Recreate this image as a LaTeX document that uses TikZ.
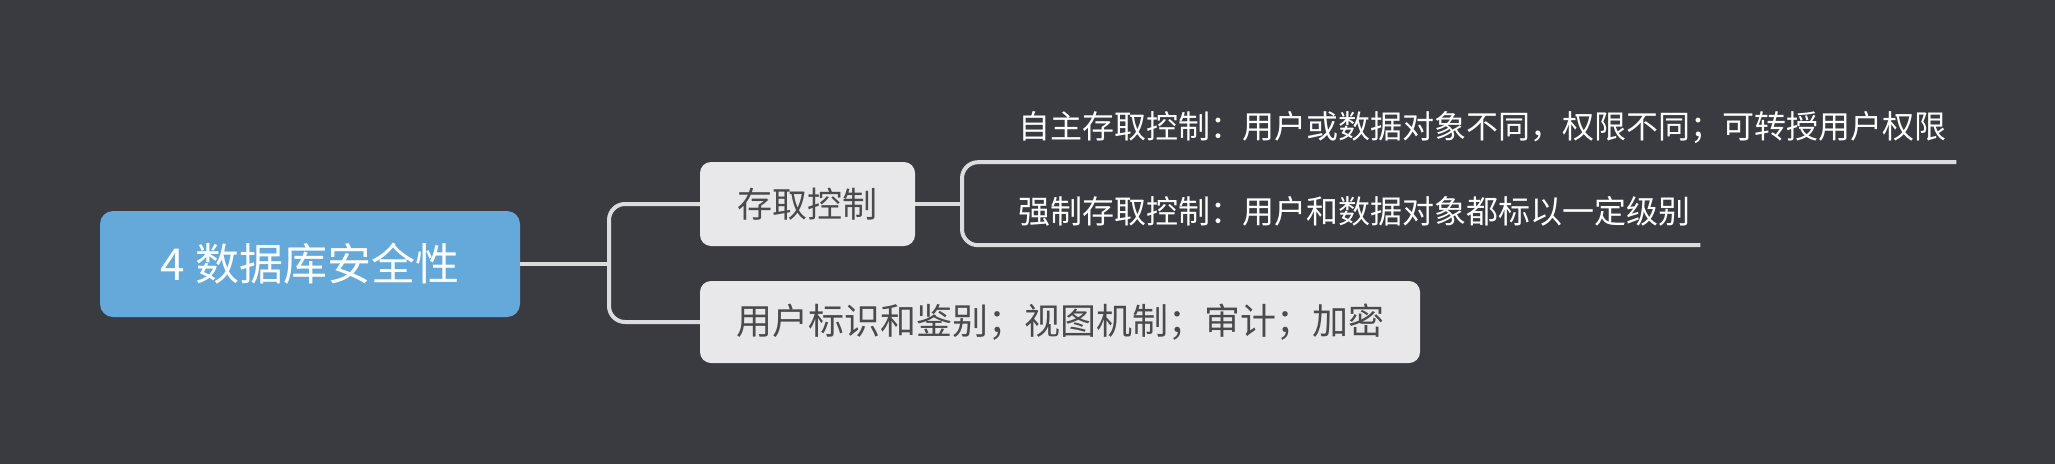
\documentclass[tikz,border=0pt]{standalone}
\usepackage{fontspec}
\setmainfont{Noto Sans CJK SC}
\definecolor{bgc}{HTML}{3A3B41}
\definecolor{rootc}{HTML}{65A9DA}
\definecolor{boxc}{HTML}{E8E8EA}
\definecolor{boxt}{HTML}{4A4A4C}
\definecolor{linec}{HTML}{DCDCDE}
\tikzset{
  rootbox/.style={draw=none, fill=rootc, text=white, rounded corners=13pt, minimum width=420pt, minimum height=106pt, inner sep=0pt, font=\fontsize{44}{50}\selectfont},
  subbox/.style={draw=none, fill=boxc, text=boxt, rounded corners=11pt, minimum height=84pt, inner sep=0pt, font=\fontsize{35}{41}\selectfont},
  leaf/.style={text=white, anchor=west, inner xsep=10pt, inner ysep=0pt, minimum height=68pt, font=\fontsize{32}{38}\selectfont},
  conn/.style={draw=linec, line width=4pt, rounded corners=16pt},
}
\begin{document}
\begin{tikzpicture}[x=1pt,y=-1pt]
\fill[bgc] (0,0) rectangle (2055,464);
\useasboundingbox (0,0) rectangle (2055,464);
\node[rootbox] (root) at (310,264) {4 数据库安全性};
\node[subbox, minimum width=215pt] (c1) at (807.5,204) {存取控制};
\node[subbox, minimum width=720pt, minimum height=82pt, font=\fontsize{36}{42}\selectfont] (c2) at (1060,322) {用户标识和鉴别；视图机制；审计；加密};
\node[leaf] (l1) at (1008,128) {自主存取控制：用户或数据对象不同，权限不同；可转授用户权限};
\node[leaf] (l2) at (1008,211) {强制存取控制：用户和数据对象都标以一定级别};
\coordinate (b0) at (609,264);
\coordinate (b1) at (962,204);
\draw[conn] (root.east) -- (b0);
\draw[conn] (b0) |- (c1.west);
\draw[conn] (b0) |- (c2.west);
\draw[conn] (c1.east) -- (b1);
\draw[conn] (b1) |- (l1.south west) -- (l1.south east);
\draw[conn] (b1) |- (l2.south west) -- (l2.south east);
\end{tikzpicture}
\end{document}
